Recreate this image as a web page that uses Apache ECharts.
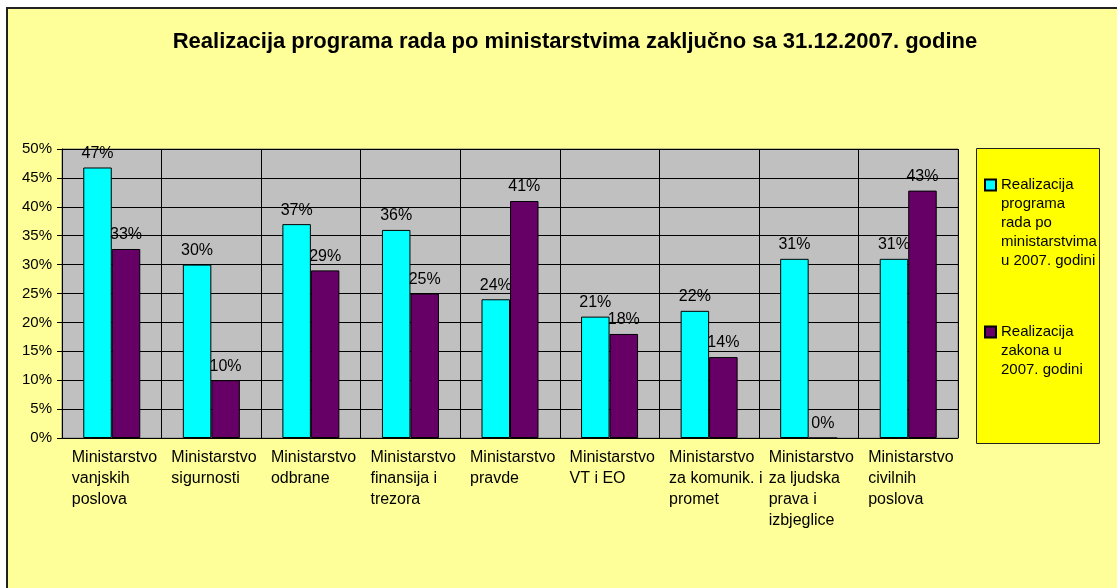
<!DOCTYPE html>
<html>
<head>
<meta charset="utf-8">
<script src="https://cdn.jsdelivr.net/npm/echarts@6/dist/echarts.min.js"></script>
<style>
  html, body { margin: 0; padding: 0; background: #fff; }
  #chart { width: 1117px; height: 588px; }
</style>
</head>
<body>
<div id="chart"></div>
<script>
// kategorije (ministarstva)
var categories = [
  "Ministarstvo\nvanjskih\nposlova",
  "Ministarstvo\nsigurnosti",
  "Ministarstvo\nodbrane",
  "Ministarstvo\nfinansija i\ntrezora",
  "Ministarstvo\npravde",
  "Ministarstvo\nVT i EO",
  "Ministarstvo\nza komunik. i\npromet",
  "Ministarstvo\nza ljudska\nprava i\nizbjeglice",
  "Ministarstvo\ncivilnih\nposlova"
];
var programName = "Realizacija\nprograma\nrada po\nministarstvima\nu 2007. godini";
var zakonName = "Realizacija\nzakona u\n2007. godini";
// vrijednosti u %
var programValues = [46.8, 30, 37, 36, 24, 21, 22, 31, 31];
var zakonValues = [32.7, 10, 29, 25, 41, 18, 14, 0, 42.8];
var yTicks = [0, 5, 10, 15, 20, 25, 30, 35, 40, 45, 50];

var font = "Arial, 'Liberation Sans', sans-serif";
var chart = echarts.init(document.getElementById("chart"));

var labelStyle = {
  show: true,
  position: "top",
  distance: 6,
  color: "#000",
  fontSize: 16,
  fontFamily: font,
  formatter: function (p) { return Math.round(p.value) + "%"; }
};

// prazni redovi ispred teksta da prvi red stoji uz kvadratic legende
function legendText(name) {
  var n = name.split("\n").length;
  return new Array(n).join("\n") + name;
}

chart.setOption({
  backgroundColor: "#fff",
  animation: false,
  graphic: [
    {
      type: "rect",
      z: -10,
      shape: { x: 7, y: 8, width: 1120, height: 590 },
      style: { fill: "#FFFF99", stroke: "#222", lineWidth: 2 }
    },
    {
      type: "rect",
      z: -5,
      shape: { x: 976.5, y: 148.5, width: 123, height: 295 },
      style: { fill: "#FFFF00", stroke: "#222", lineWidth: 1 }
    }
  ],
  title: {
    text: "Realizacija programa rada po ministarstvima zaključno sa 31.12.2007. godine",
    left: 570,
    top: 26,
    textAlign: "center",
    textStyle: { fontFamily: font, fontSize: 22, fontWeight: "bold", color: "#000" }
  },
  legend: {
    orient: "vertical",
    left: 984,
    top: 99.5,
    padding: 0,
    icon: "rect",
    itemWidth: 11,
    itemHeight: 11,
    itemGap: 14,
    formatter: legendText,
    textStyle: { fontFamily: font, fontSize: 15, lineHeight: 19, color: "#000" },
    data: [programName, zakonName]
  },
  grid: {
    left: 62,
    right: 159,
    top: 149,
    bottom: 150,
    show: true,
    backgroundColor: "#C0C0C0",
    borderColor: "#808080",
    borderWidth: 1
  },
  xAxis: {
    type: "category",
    data: categories,
    axisLine: { show: true, lineStyle: { color: "#000" } },
    axisTick: { show: false },
    splitLine: { show: true, interval: 0, lineStyle: { color: "#000", width: 1 } },
    axisLabel: {
      interval: 0,
      margin: 9,
      color: "#000",
      fontFamily: font,
      fontSize: 16,
      lineHeight: 21,
      formatter: function (v) {
        return v.split("\n").map(function (s) { return "{a|" + s + "}"; }).join("\n");
      },
      rich: {
        a: { width: 80, align: "left", fontFamily: font, fontSize: 16, lineHeight: 21, color: "#000" }
      }
    }
  },
  yAxis: {
    type: "value",
    min: yTicks[0],
    max: yTicks[yTicks.length - 1],
    interval: 5,
    axisLine: { show: true, lineStyle: { color: "#000" } },
    axisTick: { show: true, length: 5, lineStyle: { color: "#000" } },
    splitLine: { show: true, lineStyle: { color: "#000", width: 1 } },
    axisLabel: {
      margin: 10,
      color: "#000",
      fontFamily: font,
      fontSize: 15,
      formatter: "{value}%"
    }
  },
  series: [
    {
      name: programName,
      type: "bar",
      data: programValues,
      barWidth: 28.5,
      barGap: "0%",
      itemStyle: { color: "#00FFFF", borderColor: "#000", borderWidth: 1 },
      label: labelStyle
    },
    {
      name: zakonName,
      type: "bar",
      data: zakonValues,
      barWidth: 28.5,
      itemStyle: { color: "#660066", borderColor: "#000", borderWidth: 1 },
      label: labelStyle
    }
  ]
});
</script>
</body>
</html>
